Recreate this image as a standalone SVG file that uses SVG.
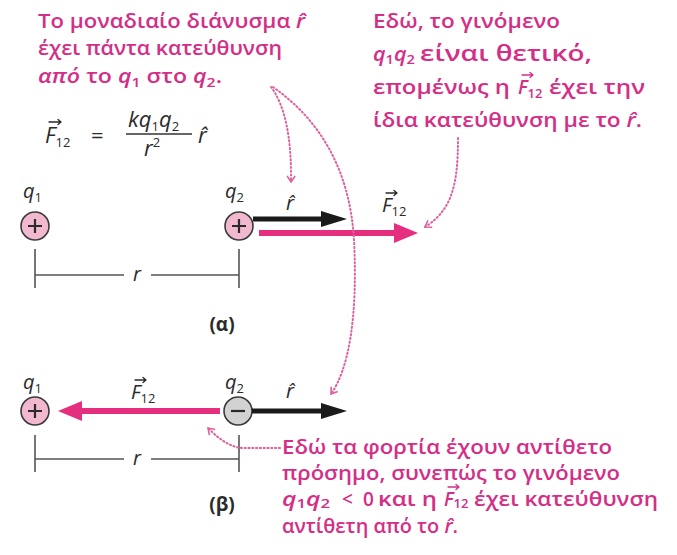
<svg xmlns="http://www.w3.org/2000/svg" width="677" height="555" viewBox="0 0 677 555">
<style>
.note{font-family:"Open Sans","Noto Sans",sans-serif;font-weight:600;font-size:19px;fill:#d42e87}
.lab{font-family:"Open Sans","Noto Sans",sans-serif;font-size:20px;fill:#2a2a2a}
.it{font-style:italic}
.sub{font-size:13px;font-style:normal}
.qq{font-size:19px;font-style:italic}
.chg{fill:#f2b8d0;stroke:#3a3a3a;stroke-width:1.6}
.neg{fill:#d2d2d2;stroke:#3a3a3a;stroke-width:1.6}
.sign{stroke:#2a2a2a;stroke-width:2.2;fill:none}
.dim{stroke:#555;stroke-width:1.6;fill:none}
.blk{stroke:#1a1a1a;stroke-width:5;fill:none}
.pnk{stroke:#e62e7e;stroke-width:6;fill:none}
.dot{stroke:#e0609c;stroke-width:2;fill:none;stroke-dasharray:1.2 2.6;stroke-linecap:round}
.vk{stroke:#2a2a2a;stroke-width:1.3;fill:none;stroke-linecap:round;stroke-linejoin:round}
.vp{stroke:#d42e87;stroke-width:1.3;fill:none;stroke-linecap:round;stroke-linejoin:round}
</style>
<defs>
<marker id="hk" markerUnits="userSpaceOnUse" viewBox="0 0 26 16" markerWidth="26" markerHeight="16" refX="3" refY="8" orient="auto"><path d="M0,0 L26,8 L0,16 z" fill="#1a1a1a"/></marker>
<marker id="hp" markerUnits="userSpaceOnUse" viewBox="0 0 24 20" markerWidth="24" markerHeight="20" refX="3" refY="10" orient="auto"><path d="M0,0 L24,10 L0,20 z" fill="#e62e7e"/></marker>
<marker id="hd" markerUnits="userSpaceOnUse" viewBox="0 0 8 10" markerWidth="8" markerHeight="10" refX="7" refY="5" orient="auto"><path d="M1,1 L7,5 L1,9" fill="none" stroke="#e0609c" stroke-width="1.6"/></marker>
</defs>
<rect width="677" height="555" fill="#ffffff"/>

<g id="note-top-left" class="note">
<text x="38" y="28" textLength="267" lengthAdjust="spacingAndGlyphs">Το μοναδιαίο διάνυσμα <tspan class="it">r̂</tspan></text>
<text x="38" y="55" textLength="244" lengthAdjust="spacingAndGlyphs">έχει πάντα κατεύθυνση</text>
<text x="38" y="83" textLength="184" lengthAdjust="spacingAndGlyphs"><tspan class="it">από</tspan> το <tspan class="it">q</tspan><tspan class="sub" dy="4">1</tspan><tspan dy="-4"> στο </tspan><tspan class="it">q</tspan><tspan class="sub" dy="4">2</tspan><tspan dy="-4">.</tspan></text>
</g>

<g id="formula" class="lab">
<text x="45" y="143" font-size="22"><tspan class="it">F</tspan><tspan class="sub" dy="4">12</tspan></text>
<path class="vk" d="M49,122 H61 M58,119.5 L61,122 L58,124.5"/>
<text x="91" y="143" font-size="22">=</text>
<text x="128" y="127" font-size="22"><tspan class="it">kq</tspan><tspan class="sub" dy="4">1</tspan><tspan class="it" dy="-4">q</tspan><tspan class="sub" dy="4">2</tspan></text>
<line x1="126" y1="134" x2="192" y2="134" stroke="#333" stroke-width="1.5"/>
<text x="144" y="156" font-size="22"><tspan class="it">r</tspan><tspan font-size="13" dy="-9">2</tspan></text>
<text x="198" y="143" font-size="22" class="it">r̂</text>
</g>

<g id="note-top-right" class="note">
<text x="373" y="28" textLength="187" lengthAdjust="spacingAndGlyphs">Εδώ, το γινόμενο</text>
<text x="373" y="61" textLength="42" lengthAdjust="spacingAndGlyphs"><tspan class="qq">q</tspan><tspan class="sub" dy="3">1</tspan><tspan class="qq" dy="-3">q</tspan><tspan class="sub" dy="3">2</tspan></text>
<text x="420" y="61" font-size="21" textLength="172" lengthAdjust="spacingAndGlyphs">είναι θετικό,</text>
<text x="373" y="94" textLength="137" lengthAdjust="spacingAndGlyphs">επομένως η</text>
<text x="518" y="94"><tspan class="it">F</tspan><tspan class="sub" dy="4">12</tspan></text>
<path class="vp" d="M522,75 H533 M530,72.5 L533,75 L530,77.5"/>
<text x="549" y="94" textLength="96" lengthAdjust="spacingAndGlyphs">έχει την</text>
<text x="373" y="127" textLength="269" lengthAdjust="spacingAndGlyphs">ίδια κατεύθυνση με το <tspan class="it">r̂</tspan>.</text>
</g>

<g id="q1-a">
<text class="lab" x="23" y="198"><tspan class="it">q</tspan><tspan class="sub" dy="4">1</tspan></text>
<circle class="chg" cx="35" cy="226" r="14"/>
<path class="sign" d="M28,226 H42 M35,219 V233"/>
</g>
<g id="q2-a">
<text class="lab" x="225" y="198"><tspan class="it">q</tspan><tspan class="sub" dy="4">2</tspan></text>
<circle class="chg" cx="239" cy="226" r="14"/>
<path class="sign" d="M232,226 H246 M239,219 V233"/>
</g>
<g id="labels-a" class="lab">
<text x="286" y="210" class="it">r̂</text>
<text x="382" y="212"><tspan class="it">F</tspan><tspan class="sub" dy="4">12</tspan></text>
<path class="vk" d="M386,193 H397 M394,190.5 L397,193 L394,195.5"/>
<text x="222" y="331" text-anchor="middle" font-weight="700" font-size="19">(α)</text>
</g>
<g id="dist-a">
<path class="dim" d="M35,249 V288 M239,249 V288 M35,275 H124 M151,275 H239"/>
<text class="lab it" x="137" y="281" text-anchor="middle">r</text>
</g>

<g id="q1-b">
<text class="lab" x="23" y="389"><tspan class="it">q</tspan><tspan class="sub" dy="4">1</tspan></text>
<circle class="chg" cx="35" cy="411" r="14"/>
<path class="sign" d="M28,411 H42 M35,404 V418"/>
</g>
<g id="q2-b">
<text class="lab" x="225" y="389"><tspan class="it">q</tspan><tspan class="sub" dy="4">2</tspan></text>
<circle class="neg" cx="238" cy="411" r="14"/>
<path class="sign" d="M231,411 H245"/>
</g>
<g id="labels-b" class="lab">
<text x="131" y="399"><tspan class="it">F</tspan><tspan class="sub" dy="4">12</tspan></text>
<path class="vk" d="M135,380 H146 M143,377.5 L146,380 L143,382.5"/>
<text x="286" y="398" class="it">r̂</text>
<text x="222" y="511" text-anchor="middle" font-weight="700" font-size="19">(β)</text>
</g>
<g id="dist-b">
<path class="dim" d="M35,435 V472 M239,435 V472 M35,459 H124 M151,459 H239"/>
<text class="lab it" x="137" y="465" text-anchor="middle">r</text>
</g>

<g id="note-bottom" class="note">
<text x="282" y="454" textLength="330" lengthAdjust="spacingAndGlyphs">Εδώ τα φορτία έχουν αντίθετο</text>
<text x="282" y="480" textLength="338" lengthAdjust="spacingAndGlyphs">πρόσημο, συνεπώς το γινόμενο</text>
<text x="282" y="506" textLength="48" lengthAdjust="spacingAndGlyphs"><tspan class="qq">q</tspan><tspan class="sub" dy="2">1</tspan><tspan class="qq" dy="-2">q</tspan><tspan class="sub" dy="2">2</tspan></text>
<text x="342" y="506">&lt;</text>
<text x="363" y="506">0</text>
<text x="378" y="506" textLength="59" lengthAdjust="spacingAndGlyphs">και η</text>
<text x="444" y="506"><tspan class="it">F</tspan><tspan class="sub" dy="2">12</tspan></text>
<path class="vp" d="M448,487 H459 M456,484.5 L459,487 L456,489.5"/>
<text x="474" y="506" textLength="184" lengthAdjust="spacingAndGlyphs">έχει κατεύθυνση</text>
<text x="282" y="533" textLength="176" lengthAdjust="spacingAndGlyphs">αντίθετη από το <tspan class="it">r̂</tspan>.</text>
</g>

<g id="connectors">
<line class="blk" x1="253" y1="219" x2="324" y2="219" marker-end="url(#hk)"/>
<line class="pnk" x1="259" y1="233" x2="397" y2="233" marker-end="url(#hp)"/>
<line class="pnk" x1="220" y1="411" x2="79" y2="411" marker-end="url(#hp)"/>
<line class="blk" x1="252" y1="411" x2="324" y2="411" marker-end="url(#hk)"/>
<path class="dot" d="M271,87 Q292,115 291,182" marker-end="url(#hd)"/>
<path class="dot" d="M273,87 C320,120 350,170 354,240 C358,320 348,370 331,394" marker-end="url(#hd)"/>
<path class="dot" d="M458,138 C458,185 452,210 425,227" marker-end="url(#hd)"/>
<path class="dot" d="M280,448 L244,448 C230,448 218,438 208,428" marker-end="url(#hd)"/>
</g>
</svg>
